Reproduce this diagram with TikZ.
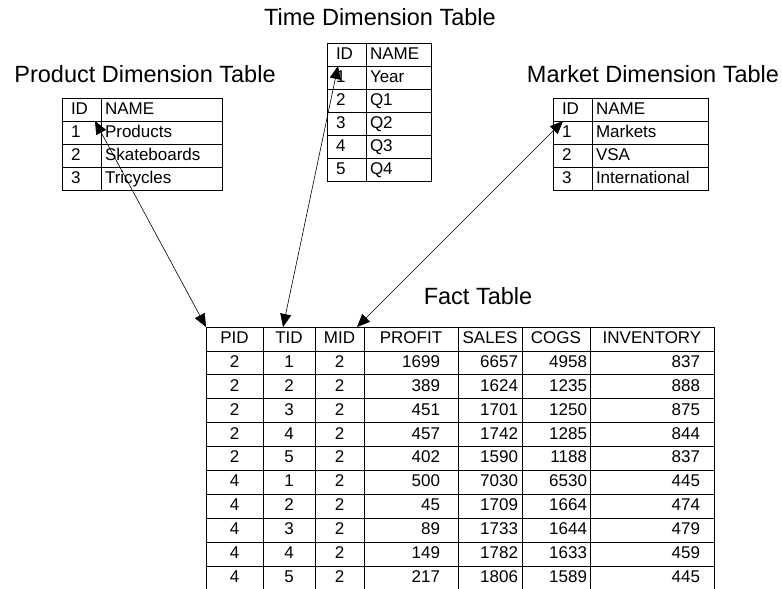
\documentclass[tikz,border=0pt]{standalone}
\usepackage{fontspec}
\setmainfont{Liberation Sans}
\usetikzlibrary{arrows.meta}

\begin{document}
\begin{tikzpicture}[x=1pt,y=-1pt,
title/.style={font=\fontsize{23.5}{28}\selectfont},
cell/.style={draw,line width=0.7pt,inner sep=0pt,outer sep=0pt,anchor=north west,
text height=12.5pt,text depth=3.5pt,font=\fontsize{17}{20}\selectfont},
idcell/.style={cell,minimum height=23pt,text width=21pt,inner xsep=9pt,align=left},
namecell/.style={cell,minimum height=23pt,text width=#1,inner xsep=4pt,align=left},
fcell/.style={cell,minimum height=23.9pt,minimum width=#1,align=center},
ncell/.style args={#1/#2}{cell,minimum height=23.9pt,text width=#1,inner xsep=#2,align=right},
link/.style={line width=0.6pt,{Triangle[length=13pt,width=11pt]}-{Triangle[length=13pt,width=11pt]}}]
\useasboundingbox (0,0) rectangle (782,589);

% titles
\node[title] (t-prod) at (145,74) {Product Dimension Table};
\node[title] (t-time) at (380,17) {Time Dimension Table};
\node[title] (t-mkt) at (653,74) {Market Dimension Table};
\node[title] (t-fact) at (478,296) {Fact Table};

% dimension tables
\foreach \i/\n [count=\r from 0] in {ID/NAME,1/Products,2/Skateboards,3/Tricycles}{
\node[idcell] (p-id-\r) at (62,{98+23*\r}) {\i};
\node[namecell=113pt] (p-name-\r) at (101,{98+23*\r}) {\n};
}
\foreach \i/\n [count=\r from 0] in {ID/NAME,1/Year,2/Q1,3/Q2,4/Q3,5/Q4}{
\node[idcell] (t-id-\r) at (327,{43+23*\r}) {\i};
\node[namecell=57pt] (t-name-\r) at (366,{43+23*\r}) {\n};
}
\foreach \i/\n [count=\r from 0] in {ID/NAME,1/Markets,2/VSA,3/International}{
\node[idcell] (m-id-\r) at (553,{98+23*\r}) {\i};
\node[namecell=108pt] (m-name-\r) at (592,{98+23*\r}) {\n};
}

% fact table
\node[fcell=57pt] (f-pid-0) at (206,327) {PID};
\node[fcell=52pt] (f-tid-0) at (263,327) {TID};
\node[fcell=49pt] (f-mid-0) at (315,327) {MID};
\node[fcell=94pt] (f-profit-0) at (364,327) {PROFIT};
\node[fcell=64pt] (f-sales-0) at (458,327) {SALES};
\node[fcell=68pt] (f-cogs-0) at (522,327) {COGS};
\node[fcell=124pt] (f-inv-0) at (590,327) {INVENTORY};
\foreach \pa/\ta/\ma/\pr/\sa/\co/\iv [count=\r] in {
2/1/2/1699/6657/4958/837, 2/2/2/389/1624/1235/888, 2/3/2/451/1701/1250/875,
2/4/2/457/1742/1285/844, 2/5/2/402/1590/1188/837, 4/1/2/500/7030/6530/445,
4/2/2/45/1709/1664/474, 4/3/2/89/1733/1644/479, 4/4/2/149/1782/1633/459,
4/5/2/217/1806/1589/445}{
\node[fcell=57pt] (f-pid-\r) at (206,{327+23.9*\r}) {\pa};
\node[fcell=52pt] (f-tid-\r) at (263,{327+23.9*\r}) {\ta};
\node[fcell=49pt] (f-mid-\r) at (315,{327+23.9*\r}) {\ma};
\node[ncell=58pt/18pt] (f-profit-\r) at (364,{327+23.9*\r}) {\pr};
\node[ncell=56pt/4pt] (f-sales-\r) at (458,{327+23.9*\r}) {\sa};
\node[ncell=62pt/3pt] (f-cogs-\r) at (522,{327+23.9*\r}) {\co};
\node[ncell=96pt/14pt] (f-inv-\r) at (590,{327+23.9*\r}) {\iv};
}

% keys
\draw[link] (f-pid-0.north west) -- ([xshift=-6pt]p-id-0.south east);
\draw[link] ([xshift=-6pt]f-tid-0.north) -- ([xshift=11pt]t-id-0.south west);
\draw[link] ([xshift=-7pt]f-mid-0.north east) -- ([xshift=10pt]m-id-0.south west);
\end{tikzpicture}
\end{document}
